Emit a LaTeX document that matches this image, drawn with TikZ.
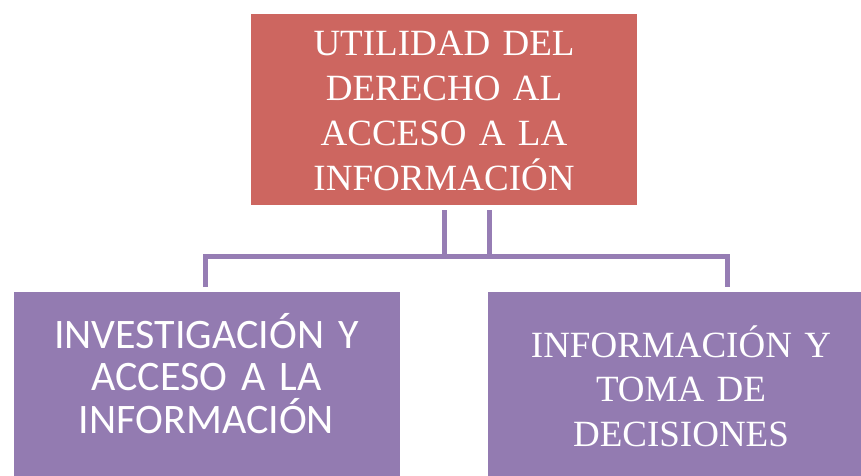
\documentclass[tikz,border=0pt]{standalone}
\usepackage{fontspec}
\setmainfont{Liberation Serif}
\newfontfamily\calibri{Carlito}
\usepackage{tikz}
\usetikzlibrary{positioning}

\definecolor{boxred}{RGB}{205,102,96}
\definecolor{boxpurple}{RGB}{147,123,177}
\definecolor{linkpurple}{RGB}{150,125,180}

\tikzset{
  box/.style={rectangle, inner sep=0pt, anchor=north, text width=386pt,
    align=center, text=white},
  link/.style={draw=linkpurple, line width=5pt}
}

\begin{document}
\begin{tikzpicture}[x=1pt, y=-1pt]
\useasboundingbox (0,0) rectangle (861,475);
\clip (0,0) rectangle (861,475);
\node[box, fill=boxred, text height=41pt, text depth=150pt,
  font=\fontsize{37}{45}\selectfont] (util) at (444,14)
  {UTILIDAD DEL\\DERECHO AL\\ACCESO A LA\\INFORMACIÓN};
\node[box, fill=boxpurple, text height=56pt, text depth=150pt,
  font=\calibri\fontsize{42}{42.5}\selectfont] (inv) at (206.5,292)
  {INVESTIGACIÓN Y\\ACCESO A LA\\INFORMACIÓN};
\node[box, fill=boxpurple, text height=65pt, text depth=150pt,
  font=\fontsize{37}{44.5}\selectfont] (toma) at (681,292)
  {INFORMACIÓN Y\\TOMA DE\\DECISIONES};
% bus between the levels
\coordinate (busl) at (205,256);
\coordinate (busr) at (727,256);
\coordinate (dropl) at (205,287);
\coordinate (dropr) at (727,287);
\coordinate (util1) at ([yshift=-5pt]util.south);
\coordinate (util2) at ([xshift=45pt,yshift=-5pt]util.south);
\draw[link] (util1) -- (util1 |- busl);
\draw[link] (util2) -- (util2 |- busl);
\draw[link] (dropl) |- (busr) -- (dropr);
\end{tikzpicture}
\end{document}
